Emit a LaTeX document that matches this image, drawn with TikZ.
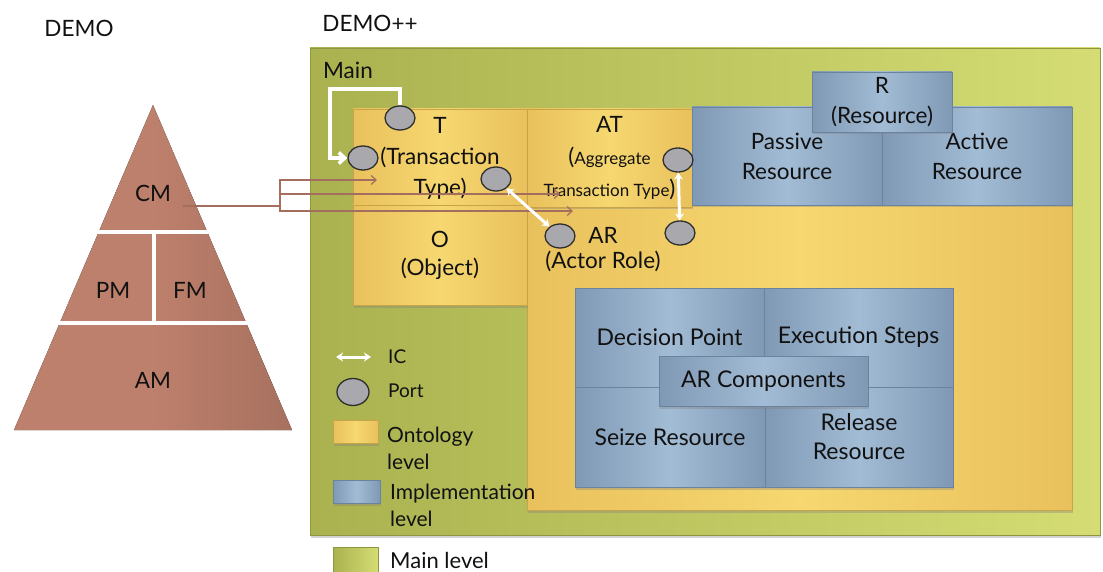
\documentclass[tikz,border=0pt]{standalone}
\usepackage{fontspec}
\setmainfont{Lato}
\usetikzlibrary{arrows.meta,shapes.geometric,shadows,calc}
\definecolor{ink}{HTML}{111111}
\definecolor{gpanL}{HTML}{AAB250}
\definecolor{gpanR}{HTML}{D4DC73}
\definecolor{gpanD}{HTML}{8E9640}
\definecolor{ontoE}{HTML}{E9C15C}
\definecolor{ontoC}{HTML}{F6D770}
\definecolor{ontoD}{HTML}{C9A348}
\definecolor{implE}{HTML}{7F98B4}
\definecolor{implC}{HTML}{A3BCD5}
\definecolor{implD}{HTML}{6A839E}
\definecolor{pyrL}{HTML}{BD806C}
\definecolor{pyrR}{HTML}{A7705F}
\definecolor{portG}{HTML}{A8A8AD}
\definecolor{portD}{HTML}{2E2E2E}
\definecolor{linkC}{HTML}{A46E5F}

\begin{document}
\begin{tikzpicture}[
  x=1pt, y=-1pt,
  every node/.style={text=ink},
  txt/.style={font=\fontsize{22.5}{30}\selectfont, align=center, inner sep=0pt},
  sml/.style={font=\fontsize{19}{26}\selectfont, align=left, inner sep=0pt},
  shd/.style={drop shadow={shadow xshift=1pt, shadow yshift=-2.5pt, opacity=.35}},
  panel/.style={draw=gpanD, left color=gpanL, right color=gpanR, inner sep=0pt,
                outer sep=0pt, shd},
  onto/.style={draw=ontoD, left color=ontoE, right color=ontoE, middle color=ontoC,
               inner sep=0pt, outer sep=0pt, align=center, shd},
  impl/.style={draw=implD, left color=implE, right color=implE, middle color=implC,
               inner sep=0pt, outer sep=0pt, align=center, shd},
  port/.style={ellipse, draw=portD, fill=portG, line width=1.3pt, minimum width=30pt,
               minimum height=24pt, inner sep=0pt},
  ic/.style={draw=white, line width=3pt,
             {Stealth[length=7pt,width=9pt]}-{Stealth[length=7pt,width=9pt]}},
  wire/.style={draw=white, line width=3.5pt, -{Straight Barb[length=6pt,width=11pt]}},
  link/.style={draw=linkC, line width=1.2pt},
  linkar/.style={link, -{Straight Barb[length=5pt,width=9pt]}},
]
\useasboundingbox (0,0) rectangle (1103,572);

%% ---------- DEMO pyramid ----------
\node[txt] (demo) at (79,28) {DEMO};
\fill[left color=pyrL, right color=pyrR, middle color=pyrL] (14,430) -- (153,105) -- (292,430) -- cycle;
\draw[white, line width=4pt] (98,232) -- (208,232);
\draw[white, line width=4pt] (59,323) -- (247,323);
\draw[white, line width=4pt] (154,232) -- (154,323);
\node[txt] (CM) at (153,193) {CM};
\node[txt] (PM) at (113,290) {PM};
\node[txt] (FM) at (190,290) {FM};
\node[txt] (AM) at (153,380) {AM};

%% ---------- DEMO++ main level ----------
\node[txt] (demopp) at (370,23) {DEMO++};
\node[panel, minimum width=790pt, minimum height=487pt] (main) at (705,291.5) {};
\node[txt] (mainlbl) at (348,70) {Main};

% ontology level
\node[onto, minimum width=545pt, minimum height=305pt] (arbox) at (799.5,357.5) {};
\node[onto, minimum width=174pt, minimum height=98pt, font=\fontsize{22.5}{31}\selectfont] (tbox)
  at (440,158) {T\\(Transaction\\Type)};
\node[onto, minimum width=165pt, minimum height=98pt, font=\fontsize{22.5}{32}\selectfont] (atbox)
  at (609.5,158) {AT\\(\fontsize{17}{32}\selectfont Aggregate\\
  \fontsize{17}{32}\selectfont Transaction Type\fontsize{22.5}{32}\selectfont)};
\node[onto, minimum width=174pt, minimum height=100pt, font=\fontsize{22.5}{28}\selectfont] (obox)
  at (440,255) {O\\(Object)};
\node[txt, font=\fontsize{22.5}{25}\selectfont] (arlbl) at (603,250) {AR\\(Actor Role)};

% implementation level
\node[impl, minimum width=190pt, minimum height=98pt, font=\fontsize{22.5}{30}\selectfont] (passive)
  at (787,156) {Passive\\Resource};
\node[impl, minimum width=190pt, minimum height=98pt, font=\fontsize{22.5}{30}\selectfont] (active)
  at (977,156) {Active\\Resource};
\node[impl, minimum width=140pt, minimum height=60pt, font=\fontsize{22.5}{30}\selectfont] (rbox)
  at (882,102) {R\\(Resource)};

\node[impl, minimum width=189pt, minimum height=99pt, font=\fontsize{23}{29}\selectfont] (decision)
  at (669.5,337.5) {Decision Point};
\node[impl, minimum width=189pt, minimum height=99pt, font=\fontsize{23}{29}\selectfont] (execution)
  at (858.5,337.5) {Execution Steps};
\node[impl, minimum width=190pt, minimum height=100pt, font=\fontsize{23}{29}\selectfont] (seize)
  at (670,437) {Seize Resource};
\node[impl, minimum width=188pt, minimum height=100pt, font=\fontsize{23}{29}\selectfont] (release)
  at (859,437) {Release\\Resource};
\node[impl, minimum width=209pt, minimum height=50pt, font=\fontsize{23}{29}\selectfont] (arcomp)
  at (763.5,381) {AR Components};

%% ---------- links from CM ----------
\coordinate (cmout) at (183,206);
\coordinate (fork) at (280,206);
\coordinate (toT) at (377,180);
\coordinate (toAT) at (560,194);
\coordinate (toAR) at (573,211);
\draw[link] (cmout) -- (fork);
\draw[linkar] (fork) |- (toT);
\draw[linkar] (fork) |- (toAT);
\draw[linkar] (fork) |- (toAR);

%% ---------- ports and ICs ----------
\node[port] (ptop) at (400,118) {};
\node[port] (pleft) at (363,158) {};
\node[port] (pin) at (496,179) {};
\node[port] (pat) at (678,160) {};
\node[port] (parl) at (560,236) {};
\node[port] (parr) at (680,233) {};

\coordinate (loopc) at (330,89);
\draw[wire] (ptop.north) |- (loopc) |- (pleft.west);
\draw[ic] (pin) -- (parl);
\draw[ic] (pat) -- (parr);

%% ---------- legend ----------
\coordinate (icA) at (336,357);
\coordinate (icB) at (371,357);
\draw[ic] (icA) -- (icB);
\node[sml, anchor=west] (iclbl) at (388,357) {IC};
\node[port, minimum width=32pt, minimum height=27pt] (lport) at (353,392) {};
\node[sml, anchor=west] (portlbl) at (388,391) {Port};
\node[onto, minimum width=45pt, minimum height=23pt] (lonto) at (355.5,431.5) {};
\node[sml, anchor=west, font=\fontsize{21}{27}\selectfont] (ontolbl) at (387,448) {Ontology\\level};
\node[impl, minimum width=47pt, minimum height=23pt] (limpl) at (356.5,491.5) {};
\node[sml, anchor=west, font=\fontsize{21}{27}\selectfont] (impllbl) at (390,505) {Implementation\\level};
\node[panel, minimum width=45pt, minimum height=25pt] (lmain) at (355.5,560) {};
\node[sml, anchor=west, font=\fontsize{22}{27}\selectfont] (mainlvl) at (390,560) {Main level};

\end{tikzpicture}
\end{document}
